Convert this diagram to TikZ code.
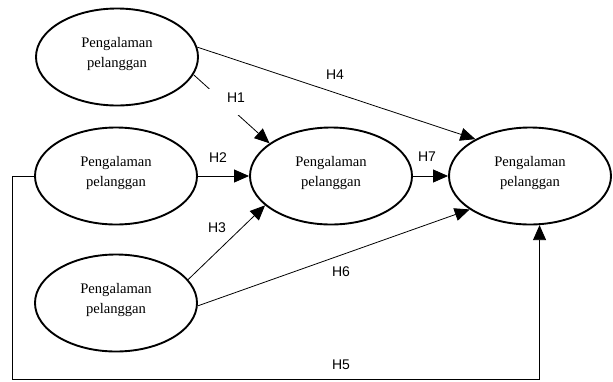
\documentclass[tikz,border=0pt]{standalone}
\usepackage{fontspec}
\setmainfont{Liberation Serif}
\setsansfont{Liberation Sans}
\usetikzlibrary{arrows.meta}
\usetikzlibrary{shapes}
\usetikzlibrary{calc}
\usetikzlibrary{positioning}
\tikzstyle{var}=[shape=ellipse,draw,line width=1.9pt,minimum width=162pt,minimum height=97pt,inner sep=0pt,align=center,text height=30pt,text depth=10pt,font=\fontsize{14.6}{19.6}\selectfont]
\tikzstyle{hyp}=[draw,-{Triangle[length=15pt,width=13pt]},line width=0.8pt]
\tikzstyle{lab}=[font=\sffamily\fontsize{14}{16}\selectfont,inner sep=0pt]

\begin{document}
\begin{tikzpicture}[x=1pt,y=-1pt]
\useasboundingbox (0,0) rectangle (613,381);

\node[var] (pa) at (117,57) {Pengalaman\\pelanggan};
\node[var] (pb) at (116,176) {Pengalaman\\pelanggan};
\node[var] (pc) at (116,303) {Pengalaman\\pelanggan};
\node[var] (pd) at (331,176) {Pengalaman\\pelanggan};
\node[var] (pe) at (530,176) {Pengalaman\\pelanggan};
\coordinate (bl) at (12,379.5);

\draw[hyp] (pa.-13) -- (pd.152);
\draw[hyp] (pa.7) -- (pe.146.5);
\draw[hyp] (pb) -- (pd);
\draw[hyp] (pd) -- (pe);
\draw[hyp] (pc.18) -- (pd.204);
\draw[hyp] (pc.-2) -- (pe.209);
\draw[hyp] (pb.west) -| (bl) -| (pe.-79);

\node[lab,fill=white,anchor=base,text height=13pt,text depth=13pt,minimum width=58pt] (h1) at (236,102) {H1};
\node[lab] (h2) at (218,158) {H2};
\node[lab] (h3) at (217,228) {H3};
\node[lab] (h4) at (335,75) {H4};
\node[lab] (h5) at (341,365) {H5};
\node[lab] (h6) at (341,272) {H6};
\node[lab] (h7) at (427,157) {H7};
\end{tikzpicture}
\end{document}
